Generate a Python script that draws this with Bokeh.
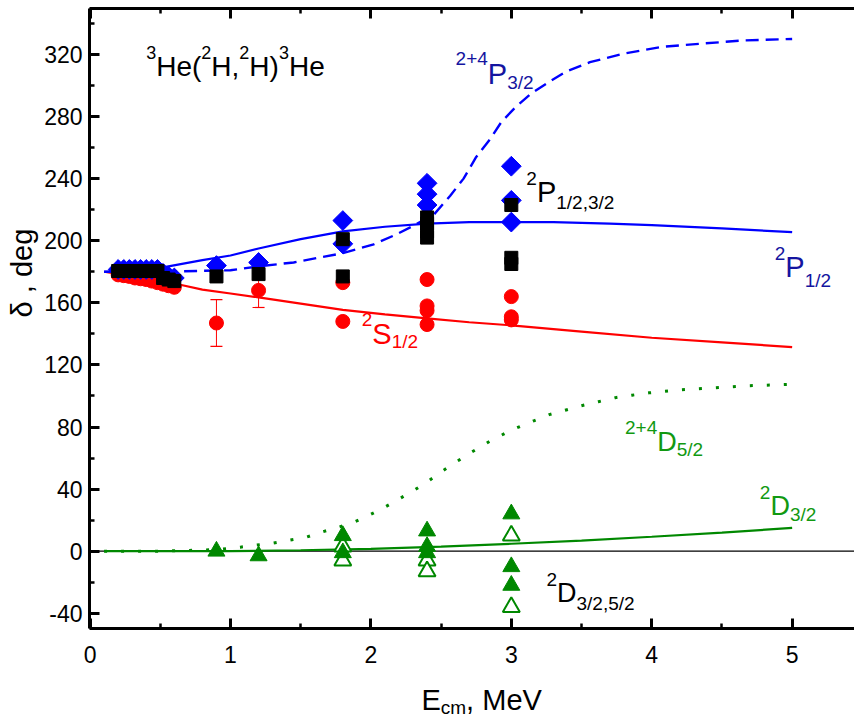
import numpy as np
from bokeh.plotting import figure
from bokeh.layouts import column, row
from bokeh.models import Range1d, LinearAxis, Span, FixedTicker, ColumnDataSource
from bokeh.core.properties import value
from bokeh.embed import file_html
from bokeh.resources import INLINE

FONT = "Liberation Sans"

# ---------------- data ----------------
# theory curves
e_p12 = [0.1, 0.3, 0.5, 0.8, 1.0, 1.2, 1.5, 1.8, 2.1, 2.4, 2.7, 3.0, 3.3, 3.7, 4.0, 4.5, 5.0]
d_p12 = [180, 180.5, 182.5, 187.5, 190.5, 195, 201, 206, 209, 211, 212, 212, 212, 211, 210, 208, 205.5]

e_p32 = [0.1, 0.5, 1.0, 1.2, 1.45, 1.8, 2.02, 2.18, 2.3, 2.45, 2.565, 2.66, 2.75, 2.85, 2.93,
         3.03, 3.14, 3.28, 3.39, 3.56, 3.8, 4.08, 4.36, 4.65, 5.0]
d_p32 = [180, 180, 181, 183.5, 186, 192, 197.7, 204, 209.5, 217, 229, 240, 254, 265.6, 276.6,
         286, 294.7, 303, 309, 315, 320.5, 325, 327, 329, 330]

e_s12 = [0.1, 0.3, 0.5, 0.65, 0.8, 1.0, 1.2, 1.5, 1.8, 2.1, 2.4, 2.7, 3.0, 3.5, 4.0, 4.5, 5.0]
d_s12 = [180, 177, 174, 171.5, 168.5, 166, 163.5, 159.5, 155.5, 152.5, 150, 147.5, 145.5, 141.5, 137.5, 134.5, 131.5]

e_d32 = [0.1, 1.0, 1.5, 2.0, 2.5, 3.0, 3.5, 4.0, 4.5, 5.0]
d_d32 = [0, 0, 0.6, 1.5, 3, 4.8, 6.8, 9.3, 12, 15]

e_d52 = [0.1, 0.5, 0.9, 1.07, 1.18, 1.3, 1.42, 1.54, 1.65, 1.77, 1.88, 1.99, 2.1, 2.2, 2.31, 2.41,
         2.51, 2.62, 2.72, 2.85, 3.0, 3.16, 3.27, 3.39, 3.5, 3.62, 3.74, 3.86, 3.98, 4.21, 4.45, 4.69, 5.0]
d_d52 = [0, 0, 1, 2.6, 3.9, 5.2, 7.1, 9, 12.3, 15.5, 18.7, 23.3, 28.4, 33.6, 39.4, 45.2,
         51.7, 58.2, 64, 71, 78, 84, 88, 91, 93.7, 96.3, 98.9, 100.5, 102, 104, 105.3, 106.6, 107.5]

# phase-shift analyses (points)
e_red = [0.2, 0.24, 0.28, 0.32, 0.36, 0.40, 0.44, 0.48, 0.52, 0.56, 0.6,
         0.9, 1.2, 1.8, 1.8, 2.4, 2.4, 2.4, 2.4, 3.0, 3.0, 3.0]
d_red = [178, 177.5, 177, 176, 175.5, 175, 174, 173, 172, 171, 170,
         147, 168, 173, 148, 175, 158, 155, 146, 164, 151, 149]

err_e = [0.9, 1.2]
err_lo = [132, 157]
err_hi = [162, 179]

e_blue = [0.2, 0.24, 0.28, 0.32, 0.36, 0.40, 0.44, 0.48, 0.52, 0.56, 0.6,
          0.9, 1.2, 1.8, 1.8, 2.4, 2.4, 2.4, 3.0, 3.0, 3.0]
d_blue = [181.5, 181.5, 181.5, 181.5, 181.5, 181.5, 181.5, 181.5, 179, 177, 176,
          184, 186, 213, 198, 237, 230, 223, 248, 226, 212]

e_black = [0.2, 0.24, 0.28, 0.32, 0.36, 0.40, 0.44, 0.48, 0.52, 0.56, 0.6,
           0.9, 1.2, 1.8, 1.8, 2.4, 2.4, 2.4, 2.4, 3.0, 3.0, 3.0]
d_black = [180.5, 180.5, 180.5, 180.5, 180.5, 180.5, 180.5, 180.5, 176, 175, 174,
           177, 178.5, 201, 177, 215, 211, 206, 202, 223, 189, 185]

e_gfill = [0.9, 1.2, 1.8, 1.8, 2.4, 2.4, 2.4, 3.0, 3.0, 3.0]
d_gfill = [0, -3, 10, -1, 13, 3, -1, 24, -10, -22]

e_gopen = [1.8, 1.8, 2.4, 2.4, 3.0, 3.0]
d_gopen = [3, -6, -6, -13, 10, -36]

x_ticks = [0, 1, 2, 3, 4, 5]
y_ticks = [-40, 0, 40, 80, 120, 160, 200, 240, 280, 320]

# ---------------- figure ----------------
XR = Range1d(-0.004, 5.444)
YR = Range1d(-49.8, 349.6)
TOP_B, BOT_B, LEFT_B = 8, 50, 46
YW = 41
p = figure(width=854 - YW, height=678, x_range=XR, y_range=YR,
           output_backend="svg", toolbar_location=None,
           min_border_left=LEFT_B, min_border_right=0, min_border_top=TOP_B, min_border_bottom=BOT_B)
p.grid.visible = False
p.outline_line_color = None
p.background_fill_color = "white"
p.border_fill_color = "white"

x_minor = [t + 0.5 for t in [-1] + x_ticks]
y_minor = [t + 20 for t in [-80] + y_ticks]


def style_axis(ax, ticks, minor, labels=True):
    ax.ticker = FixedTicker(ticks=ticks, minor_ticks=minor)
    ax.axis_line_width = 3
    ax.axis_line_color = "black"
    ax.major_tick_line_width = 3
    ax.minor_tick_line_width = 2.5
    ax.major_tick_in = 10
    ax.major_tick_out = 0
    ax.minor_tick_in = 5
    ax.minor_tick_out = 0
    ax.major_label_text_font = FONT
    if labels:
        ax.major_label_overrides = {t: str(t) for t in ticks}
        ax.major_label_text_font_size = "23px"
        ax.major_label_text_color = "black"
    else:
        ax.major_label_overrides = {t: "" for t in ticks}
        ax.major_label_text_font_size = "0px"
        ax.major_label_standoff = 0


xa = p.xaxis[0]
style_axis(xa, x_ticks, x_minor)
xa.major_label_standoff = 17

ya = p.yaxis[0]
style_axis(ya, y_ticks, y_minor)
ya.major_label_standoff = 7

top = LinearAxis()
style_axis(top, x_ticks, x_minor, labels=False)
p.add_layout(top, "above")

zero = Span(location=0, dimension="width", line_color="black", line_width=1.2, level="underlay")
p.add_layout(zero)

RED = "#ff0000"
BLUE = "#0000ff"
GREEN = "#008800"

# curves
p.line(e_d52, d_d52, line_color=GREEN, line_width=3, line_dash="3 14")
p.line(e_d32, d_d32, line_color=GREEN, line_width=2.2)
p.line(e_s12, d_s12, line_color=RED, line_width=2.2)
p.line(e_p32, d_p32, line_color=BLUE, line_width=2.4, line_dash="13 7")
p.line(e_p12, d_p12, line_color=BLUE, line_width=2.2)

# error bars
p.segment(err_e, err_lo, err_e, err_hi, line_color=RED, line_width=1)
p.scatter(err_e, err_lo, marker="dash", size=12, line_color=RED, line_width=1.2)
p.scatter(err_e, err_hi, marker="dash", size=12, line_color=RED, line_width=1.2)

# points
p.scatter(e_red, d_red, marker="circle", size=14, fill_color=RED, line_color=RED)
p.scatter(e_blue, d_blue, marker="square", angle=np.pi / 4, size=14, fill_color=BLUE, line_color=BLUE)
p.scatter(e_black, d_black, marker="square", size=13, fill_color="black", line_color="black")
p.scatter(e_gopen, d_gopen, marker="triangle", size=17, fill_color="white", line_color=GREEN, line_width=2)
p.scatter(e_gfill, d_gfill, marker="triangle", size=17, fill_color=GREEN, line_color=GREEN)

# ---------------- rich text labels ----------------
WIDTH = {"0": 556, "1": 556, "2": 556, "3": 556, "4": 556, "5": 556, "6": 556, "7": 556, "8": 556,
         "9": 556, "+": 584, "/": 278, ",": 278, " ": 278, "(": 333, ")": 333, "H": 722, "e": 556,
         "P": 667, "S": 667, "D": 722, "E": 667, "c": 500, "m": 833, "M": 833, "V": 667}


def tw(s, size):
    return sum(WIDTH.get(c, 556) for c in s) * size / 1000.0


def rich(fig, x, y, parts, color, main=29, small=19, sup_dy=14, sub_dy=9):
    xs, ys, ts, xo, yo, fs = [], [], [], [], [], []
    off = 0.0
    for txt, kind in parts:
        sz = main if kind == "n" else small
        dy = 0 if kind == "n" else (sup_dy if kind == "sup" else -sub_dy)
        xs.append(x)
        ys.append(y)
        ts.append(txt)
        xo.append(off)
        yo.append(-dy)
        fs.append(f"{sz}px")
        off += tw(txt, sz)
    src = ColumnDataSource(dict(x=xs, y=ys, text=ts, xo=xo, yo=yo, fs=fs))
    fig.text(x="x", y="y", text="text", x_offset="xo", y_offset="yo", text_font_size="fs",
             source=src, text_font=value(FONT), text_color=color,
             text_align="left", text_baseline="alphabetic")


NAVY = "#1414a0"
LGREEN = "#119911"

rich(p, 0.40, 312, [("3", "sup"), ("He(", "n"), ("2", "sup"), ("H,", "n"), ("2", "sup"),
                    ("H)", "n"), ("3", "sup"), ("He", "n")], "black", main=28, small=18, sup_dy=14)
rich(p, 2.603, 307.6, [("2+4", "sup"), ("P", "n"), ("3/2", "sub")], NAVY, sup_dy=15, sub_dy=9)
rich(p, 3.107, 231.3, [("2", "sup"), ("P", "n"), ("1/2,3/2", "sub")], "black", sup_dy=14, sub_dy=10)
rich(p, 4.876, 182.9, [("2", "sup"), ("P", "n"), ("1/2", "sub")], NAVY, sup_dy=14, sub_dy=13)
rich(p, 1.935, 140.2, [("2", "sup"), ("S", "n"), ("1/2", "sub")], RED, sup_dy=14, sub_dy=8)
rich(p, 3.81, 70.4, [("2+4", "sup"), ("D", "n"), ("5/2", "sub")], LGREEN, main=27, sup_dy=14, sub_dy=8)
rich(p, 4.77, 29.1, [("2", "sup"), ("D", "n"), ("3/2", "sub")], LGREEN, main=27, sup_dy=14, sub_dy=8)
rich(p, 3.25, -27.1, [("2", "sup"), ("D", "n"), ("3/2,5/2", "sub")], "black", main=27, sup_dy=14, sub_dy=10)


def blank(fig):
    fig.axis.visible = False
    fig.grid.visible = False
    fig.outline_line_color = None
    fig.background_fill_color = "white"
    fig.border_fill_color = "white"


# ---------------- x axis title strip ----------------
q = figure(width=854 - YW, height=46, x_range=XR, y_range=Range1d(0, 46),
           output_backend="svg", toolbar_location=None,
           min_border_left=LEFT_B, min_border_right=0, min_border_top=0, min_border_bottom=0)
blank(q)
rich(q, 2.36, 25, [("E", "n"), ("cm", "sub"), (", MeV", "n")], "black", main=29, small=19, sub_dy=8)

# ---------------- y axis title strip ----------------
t = figure(width=YW, height=678, x_range=Range1d(0, YW), y_range=YR,
           output_backend="svg", toolbar_location=None,
           min_border_left=0, min_border_right=0, min_border_top=TOP_B, min_border_bottom=BOT_B)
blank(t)
t.text(x=[21], y=[150.6], text=["δ , deg"], angle=np.pi / 2, text_font=value(FONT),
       text_font_size="29px", text_color="black", text_align="left", text_baseline="middle")

layout = row(t, column(p, q, spacing=0), spacing=0)
open("out.html", "w").write(file_html(layout, INLINE))
